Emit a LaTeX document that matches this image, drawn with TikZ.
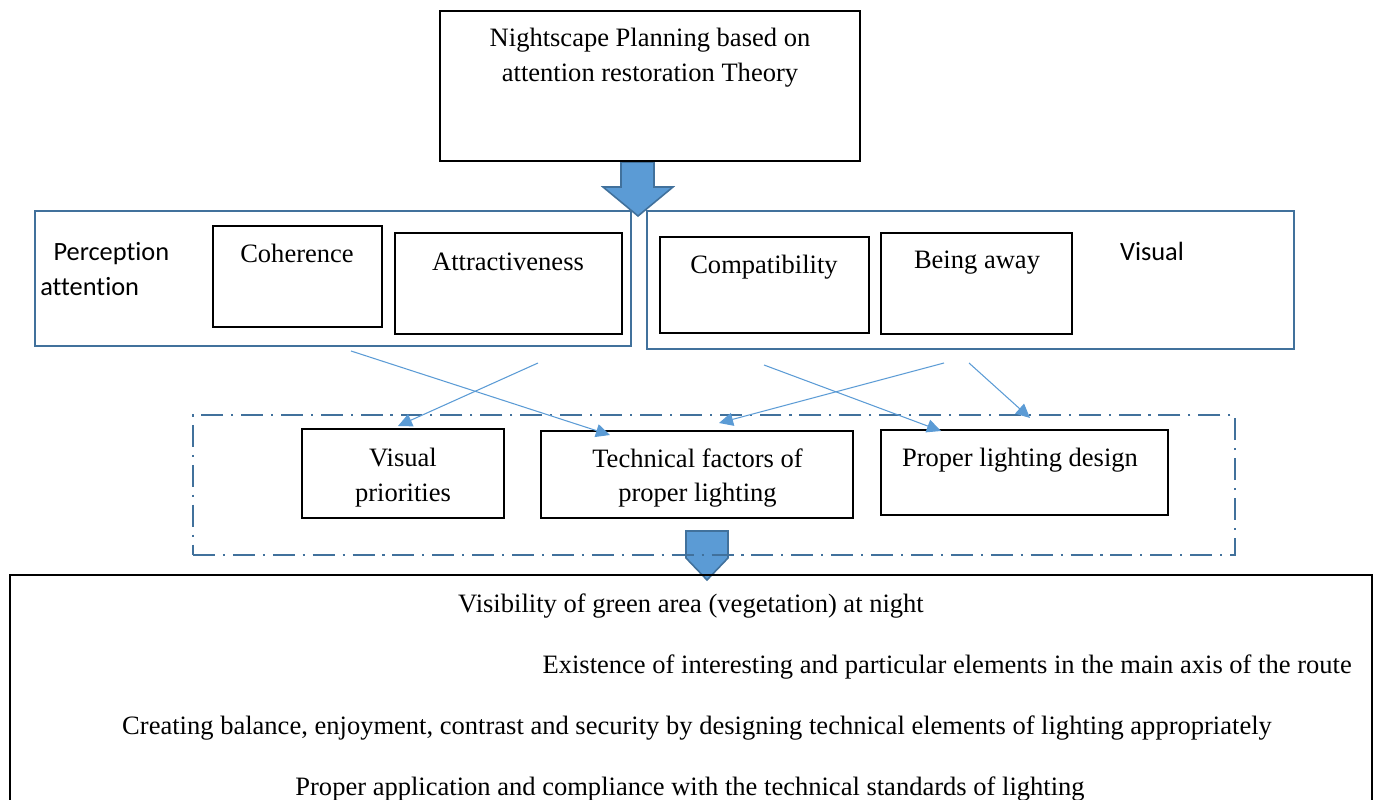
\documentclass[tikz,border=0pt]{standalone}
\usepackage{fontspec}
\setmainfont{Liberation Serif}
\newfontfamily\calibri[Ligatures=NoCommon]{Carlito}
\usepackage{xcolor}
\usepackage{tikz}
\usetikzlibrary{arrows.meta,positioning}

\definecolor{groupblue}{HTML}{41719C}
\definecolor{arrowblue}{HTML}{5B9BD5}

\begin{document}
\begin{tikzpicture}[
    box/.style={draw=black, line width=0.6pt, inner sep=0pt},
    group/.style={draw=groupblue, line width=1.2pt, inner sep=0pt},
    frame/.style={draw=groupblue, line width=1.2pt, dash pattern=on 12.5pt off 4.5pt on 1.2pt off 4.5pt},
    txt/.style={font=\fontsize{15.1}{19.8}\selectfont, align=center, inner sep=0pt},
    stxt/.style={font=\fontsize{15}{20.4}\calibri, align=left, inner sep=0pt},
    link/.style={-{Triangle[length=8pt, width=7.5pt]}, draw=arrowblue, line width=0.6pt},
    bigarrow/.style={fill=arrowblue, draw=groupblue, line width=0.9pt, line join=miter}
]
\useasboundingbox (0,0) rectangle (27.5,-16);
\clip (0,0) rectangle (27.5,-16);

% block arrows first, boxes go over them
\draw[bigarrow] (12.42,-3.24) -- (13.08,-3.24) -- (13.08,-3.74) -- (13.46,-3.74)
    -- (12.76,-4.32) -- (12.06,-3.74) -- (12.42,-3.74) -- cycle;
\draw[bigarrow] (13.72,-10.62) -- (14.56,-10.62) -- (14.56,-11.16)
    -- (14.14,-11.60) -- (13.72,-11.16) -- cycle;

% theory
\node[box, minimum width=8.4cm, minimum height=3.0cm] (theory) at (13.00,-1.72) {};
\node[txt] (theorytxt) at (13.00,-1.16) {Nightscape Planning based on\\attention restoration Theory};

% perception side
\node[group, minimum width=11.92cm, minimum height=2.7cm] (percep) at (6.66,-5.57) {};
\node[stxt] (perceptxt) at (0.80,-5.38) [anchor=west] {\hspace{0.5em}Perception\\attention};
\node[box, minimum width=3.38cm, minimum height=2.02cm] (coher) at (5.95,-5.53) {};
\node[txt] (cohertxt) at (5.94,-5.06) {Coherence};
\node[box, minimum width=4.54cm, minimum height=2.02cm] (attr) at (10.17,-5.67) {};
\node[txt] (attrtxt) at (10.16,-5.24) {Attractiveness};

% visual side
\node[group, minimum width=12.94cm, minimum height=2.76cm] (visual) at (19.41,-5.60) {};
\node[stxt] (visualtxt) at (23.04,-5.02) {Visual};
\node[box, minimum width=4.18cm, minimum height=1.92cm] (compat) at (15.29,-5.70) {};
\node[txt] (compattxt) at (15.28,-5.34) {Compatibility};
\node[box, minimum width=3.82cm, minimum height=2.02cm] (away) at (19.53,-5.67) {};
\node[txt] (awaytxt) at (19.54,-5.26) {Being away};

% lighting factors
\node[box, minimum width=4.04cm, minimum height=1.78cm] (prio) at (8.06,-9.47) {};
\node[txt] (priotxt) at (8.06,-9.55) {Visual\\priorities};
\node[box, minimum width=6.24cm, minimum height=1.74cm] (tech) at (13.94,-9.49) {};
\node[txt, font=\fontsize{15.1}{19.2}\selectfont] (techtxt) at (13.95,-9.56) {Technical factors of\\proper lighting};
\node[box, minimum width=5.74cm, minimum height=1.70cm] (design) at (20.49,-9.45) {};
\node[txt] (designtxt) at (20.40,-9.20) {Proper lighting design};
\node[frame, minimum width=20.84cm, minimum height=2.8cm, inner sep=0pt] (factors) at (14.28,-9.70) {};

% links between the two layers
\coordinate (p1) at (7.02,-7.02);
\coordinate (p2) at (10.76,-7.26);
\coordinate (v1) at (15.28,-7.30);
\coordinate (v2) at (18.88,-7.26);
\coordinate (v3) at (19.38,-7.26);
\coordinate (t1) at (12.20,-8.70);
\coordinate (t2) at (7.96,-8.52);
\coordinate (t3) at (18.82,-8.62);
\coordinate (t4) at (14.38,-8.46);
\coordinate (t5) at (20.60,-8.36);
\draw[link] (p1) -- (t1);
\draw[link] (p2) -- (t2);
\draw[link] (v1) -- (t3);
\draw[link] (v2) -- (t4);
\draw[link] (v3) -- (t5);

% outcomes
\node[box, minimum width=27.24cm, minimum height=5.3cm] (result) at (13.82,-14.15) {};
\node[txt] (res1) at (13.82,-12.12) {Visibility of green area (vegetation) at night};
\node[txt, anchor=east] (res2) at (27.04,-13.34) {Existence of interesting and particular elements in the main axis of the route};
\node[txt] (res3) at (13.94,-14.56) {Creating balance, enjoyment, contrast and security by designing technical elements of lighting appropriately};
\node[txt] (res4) at (13.80,-15.78) {Proper application and compliance with the technical standards of lighting};

\end{tikzpicture}
\end{document}
